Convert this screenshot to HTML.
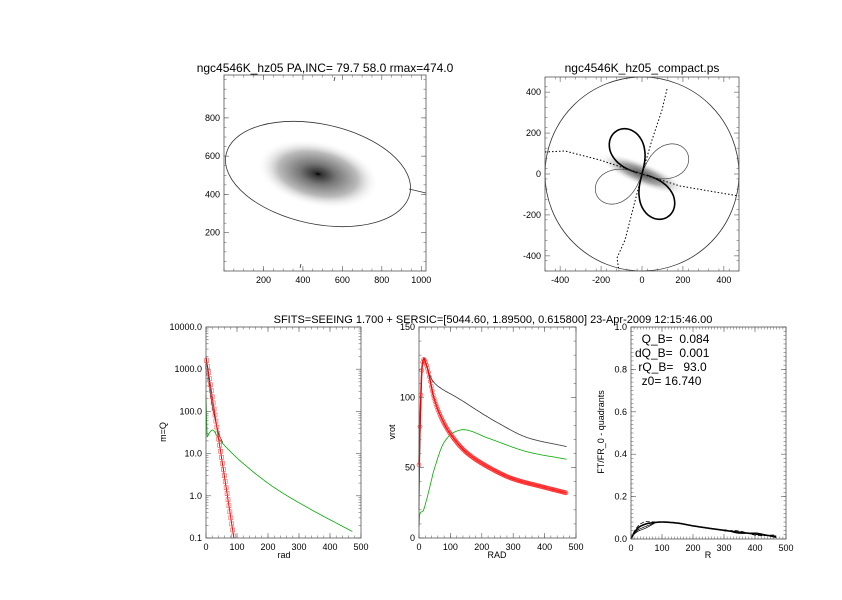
<!DOCTYPE html>
<html><head><meta charset="utf-8"><style>
body{margin:0;background:#fff}
svg text{font-family:"Liberation Sans",sans-serif;fill:#000}
</style></head><body>
<svg id="s" width="842" height="595" xmlns="http://www.w3.org/2000/svg">
<defs>
<radialGradient id="g1">
<stop offset="0" stop-color="#000"/><stop offset="0.06" stop-color="#333"/><stop offset="0.3" stop-color="#777"/><stop offset="0.65" stop-color="#bbb"/><stop offset="1" stop-color="#fff" stop-opacity="0"/>
</radialGradient>
<radialGradient id="g2">
<stop offset="0" stop-color="#555"/><stop offset="0.5" stop-color="#aaa"/><stop offset="1" stop-color="#fff" stop-opacity="0"/>
</radialGradient>
</defs>
<g font-size="12">
<text x="325" y="72" text-anchor="middle">ngc4546K_hz05 PA,INC= 79.7 58.0 rmax=474.0</text>
<text x="642" y="72" text-anchor="middle">ngc4546K_hz05_compact.ps</text>
<text x="493" y="323" text-anchor="middle" font-size="11">SFITS=SEEING 1.700 + SERSIC=[5044.60, 1.89500, 0.615800]  23-Apr-2009 12:15:46.00</text>
</g>
<ellipse cx="318" cy="174" rx="62" ry="33" fill="url(#g1)" transform="rotate(12 318 174)"/>
<ellipse cx="318" cy="174" rx="94" ry="50" fill="none" stroke="#333" stroke-width="0.8" transform="rotate(12 318 174)"/>
<line x1="409" y1="189" x2="426" y2="193" stroke="#333" stroke-width="0.8"/>
<path d="M334,81 l1,-4 M300,268 l1,-4" stroke="#333" stroke-width="0.8"/>
<rect x="224" y="75" width="202" height="196" fill="none" stroke="#555" stroke-width="0.8"/>
<ellipse cx="642" cy="174" rx="48" ry="12" fill="url(#g2)" transform="rotate(22 642 174)"/>
<circle cx="642" cy="174" r="97" fill="none" stroke="#333" stroke-width="0.8"/>
<rect x="545" y="77" width="194" height="194" fill="none" stroke="#555" stroke-width="0.8"/>
</svg>
<script>
var S=document.getElementById('s'),NS='http://www.w3.org/2000/svg';
function el(t,a,p){var e=document.createElementNS(NS,t);for(var k in a)e.setAttribute(k,a[k]);(p||S).appendChild(e);return e;}
function tx(x,y,s,o){var e=el('text',Object.assign({x:x,y:y,'font-size':9},o||{}));e.textContent=s;return e;}
function path(pts,o){el('path',Object.assign({d:'M'+pts.map(p=>p[0].toFixed(1)+','+p[1].toFixed(1)).join('L'),fill:'none'},o));}
function interp(P,x){var n=P.length;if(x<=P[0][0])return P[0][1];if(x>=P[n-1][0])return P[n-1][1];
 var i=0;while(x>P[i+1][0])i++;
 function sl(k){if(k<=0)return (P[1][1]-P[0][1])/(P[1][0]-P[0][0]);if(k>=n-1)return (P[n-1][1]-P[n-2][1])/(P[n-1][0]-P[n-2][0]);
  var d0=(P[k][1]-P[k-1][1])/(P[k][0]-P[k-1][0]),d1=(P[k+1][1]-P[k][1])/(P[k+1][0]-P[k][0]);if(d0*d1<=0)return 0;return 2/(1/d0+1/d1);}
 var h=P[i+1][0]-P[i][0],t=(x-P[i][0])/h,m0=sl(i)*h,m1=sl(i+1)*h,y0=P[i][1],y1=P[i+1][1];
 var t2=t*t,t3=t2*t;return (2*t3-3*t2+1)*y0+(t3-2*t2+t)*m0+(-2*t3+3*t2)*y1+(t3-t2)*m1;}
function frame(x0,y0,x1,y1){el('rect',{x:x0,y:y0,width:x1-x0,height:y1-y0,fill:'none',stroke:'#555','stroke-width':0.8});}
function ticksX(x0,x1,y0,y1,vals,lo,hi,minor){vals.forEach(v=>{var x=x0+(v-lo)/(hi-lo)*(x1-x0);el('line',{x1:x,y1:y1,x2:x,y2:y1-5,stroke:'#555','stroke-width':0.6});el('line',{x1:x,y1:y0,x2:x,y2:y0+5,stroke:'#555','stroke-width':0.6});tx(x,y1+12,String(v),{'text-anchor':'middle'});});
 for(var v=lo;v<=hi;v+=minor){var x=x0+(v-lo)/(hi-lo)*(x1-x0);el('line',{x1:x,y1:y1,x2:x,y2:y1-2.5,stroke:'#555','stroke-width':0.5});el('line',{x1:x,y1:y0,x2:x,y2:y0+2.5,stroke:'#555','stroke-width':0.5});}}
function ticksY(x0,x1,y0,y1,vals,lo,hi,minor,fmt){vals.forEach(v=>{var y=y1-(v-lo)/(hi-lo)*(y1-y0);el('line',{x1:x0,y1:y,x2:x0+5,y2:y,stroke:'#555','stroke-width':0.6});el('line',{x1:x1,y1:y,x2:x1-5,y2:y,stroke:'#555','stroke-width':0.6});tx(x0-4,y+3,fmt?fmt(v):String(v),{'text-anchor':'end'});});
 if(minor)for(var v=lo;v<=hi+1e-9;v+=minor){var y=y1-(v-lo)/(hi-lo)*(y1-y0);el('line',{x1:x0,y1:y,x2:x0+2.5,y2:y,stroke:'#555','stroke-width':0.5});el('line',{x1:x1,y1:y,x2:x1-2.5,y2:y,stroke:'#555','stroke-width':0.5});}}
ticksX(224,426,75,271,[200,400,600,800,1000],0,1024,50);
ticksY(224,426,75,271,[200,400,600,800],0,1024,50);
ticksX(545,739,77,271,[-400,-200,0,200,400],-474,474,50);
ticksY(545,739,77,271,[-400,-200,0,200,400],-474,474,50);
var cx=642,cy=174;
function petal(ang,L,o){var pts=[];for(var t=-Math.PI/4;t<=Math.PI/4+1e-6;t+=0.02){var r=L*Math.pow(Math.cos(2*t),0.6);var a=ang+t;pts.push([cx+r*Math.cos(a),cy-r*Math.sin(a)]);}path(pts,o);}
petal(120*Math.PI/180,50,{stroke:'#000','stroke-width':1.6});
petal(-60*Math.PI/180,50,{stroke:'#000','stroke-width':1.6});
petal(25*Math.PI/180,50,{stroke:'#444','stroke-width':0.7});
petal(205*Math.PI/180,50,{stroke:'#444','stroke-width':0.7});
path([[667,89],[662,110],[652,140],[642,174],[634,205],[625,240],[617,258],[619,271]],{stroke:'#000','stroke-width':1,'stroke-dasharray':'1.5,2'});
path([[545,152],[565,151],[600,160],[642,174],[680,186],[715,192],[739,196]],{stroke:'#000','stroke-width':1,'stroke-dasharray':'1.5,2'});
// bottom-left log
var B1={x0:206,x1:361,y0:327,y1:538};
function lx(r){return B1.x0+r/500*(B1.x1-B1.x0);}function ly(v){return B1.y1-(Math.log10(v)+1)/5*(B1.y1-B1.y0);}
var G=[[0,2.4],[2,1.8],[4,1.4],[10,1.48],[21,1.56],[40,1.36],[64,1.16],[107,0.85],[215,0.22],[323,-0.26],[473,-0.85]];
var pts=[];for(var r=0;r<=472;r+=2)pts.push([lx(r),ly(Math.pow(10,interp(G,r)))]);path(pts,{stroke:'#0a0','stroke-width':0.8});
var K=[[0,3.3],[10,2.7],[20,2.15],[30,1.8],[42,1.45],[54,1.26]];pts=[];for(var r=0;r<=54;r+=2)pts.push([lx(r),ly(Math.pow(10,interp(K,r)))]);path(pts,{stroke:'#333','stroke-width':0.8});
pts=[];for(var r=0;r<=90;r+=1)pts.push([lx(r),ly(Math.pow(10,3.3-4.3*r/90))]);path(pts,{stroke:'#d00','stroke-width':1});
for(var r=2;r<=90;r+=3){var x=lx(r),y=ly(Math.pow(10,3.3-4.3*r/90));el('rect',{x:x-2,y:y-2,width:4,height:4,fill:'none',stroke:'#f55','stroke-width':0.6});}
frame(B1.x0,B1.y0,B1.x1,B1.y1);
ticksX(B1.x0,B1.x1,B1.y0,B1.y1,[0,100,200,300,400,500],0,500,20);
[0.1,1,10,100,1000,10000].forEach(v=>{var y=ly(v);el('line',{x1:B1.x0,y1:y,x2:B1.x0+5,y2:y,stroke:'#555','stroke-width':0.6});el('line',{x1:B1.x1,y1:y,x2:B1.x1-5,y2:y,stroke:'#555','stroke-width':0.6});tx(B1.x0-4,y+3,v.toFixed(1),{'text-anchor':'end'});
 if(v<10000)for(var m=2;m<10;m++){var yy=ly(v*m);el('line',{x1:B1.x0,y1:yy,x2:B1.x0+2.5,y2:yy,stroke:'#555','stroke-width':0.5});el('line',{x1:B1.x1,y1:yy,x2:B1.x1-2.5,y2:yy,stroke:'#555','stroke-width':0.5});}});
tx(284,558,'rad',{'text-anchor':'middle'});tx(0,0,'m=Q',{transform:'translate(166,432) rotate(-90)','text-anchor':'middle'});
// bottom-middle
var B2={x0:419,x1:576,y0:327,y1:538};
function mx(r){return B2.x0+r/500*(B2.x1-B2.x0);}function my(v){return B2.y1-v/150*(B2.y1-B2.y0);}
var Kb=[[0,20],[5,90],[10,122],[15,128],[25,122],[40,113],[60,108],[120,100],[250,82],[350,71],[470,65]];
var Gb=[[0,8],[3,18],[12,19],[25,28],[50,50],[80,68],[110,75],[140,77],[220,71],[350,61],[470,56]];
var Rb=[[0,52],[5,95],[10,122],[15,127],[25,122],[47,100],[70,86],[97,75],[150,61],[224,50],[300,42],[400,36],[470,32]];
pts=[];for(var r=0;r<=470;r+=2)pts.push([mx(r),my(interp(Kb,r))]);path(pts,{stroke:'#333','stroke-width':0.8});
pts=[];for(var r=0;r<=470;r+=2)pts.push([mx(r),my(interp(Gb,r))]);path(pts,{stroke:'#0a0','stroke-width':0.8});
pts=[];for(var r=0;r<=470;r+=2)pts.push([mx(r),my(interp(Rb,r))]);path(pts,{stroke:'#e00','stroke-width':1.5});
for(var r=0;r<=470;r+=3){el('circle',{cx:mx(r),cy:my(interp(Rb,r)),r:2,fill:'none',stroke:'#f33','stroke-width':0.6});}
frame(B2.x0,B2.y0,B2.x1,B2.y1);
ticksX(B2.x0,B2.x1,B2.y0,B2.y1,[0,100,200,300,400,500],0,500,20);
ticksY(B2.x0,B2.x1,B2.y0,B2.y1,[0,50,100,150],0,150,10);
tx(497,558,'RAD',{'text-anchor':'middle'});tx(0,0,'vrot',{transform:'translate(395,432) rotate(-90)','text-anchor':'middle'});
// bottom-right
var B3={x0:631,x1:786,y0:327,y1:539};
function rx(r){return B3.x0+r/500*(B3.x1-B3.x0);}function ry(v){return B3.y1-v*(B3.y1-B3.y0);}
var F=[[0,0],[10,0.03],[30,0.06],[60,0.075],[100,0.08],[150,0.075],[200,0.062],[280,0.045],[350,0.032],[470,0.012]];
[[0,0],[-0.012,1],[0.012,-1],[-0.02,0.5]].forEach((d,i)=>{pts=[];for(var r=0;r<=470;r+=3){var v=interp(F,r);if(r<80)v+=d[0]*Math.sin(r/80*Math.PI);if(r>300)v+=0.006*d[1]*Math.sin(r/20);pts.push([rx(r),ry(v)]);}path(pts,{stroke:'#000','stroke-width':i==0?1.6:0.7,'stroke-dasharray':i==2?'4,2':'none'});});
frame(B3.x0,B3.y0,B3.x1,B3.y1);
ticksX(B3.x0,B3.x1,B3.y0,B3.y1,[0,100,200,300,400,500],0,500,10);
ticksY(B3.x0,B3.x1,B3.y0,B3.y1,[0,0.2,0.4,0.6,0.8,1.0],0,1,0.02,v=>v.toFixed(1));
tx(708,558,'R',{'text-anchor':'middle'});tx(0,0,'FT/FR_0 - quadrants',{transform:'translate(604,432) rotate(-90)','text-anchor':'middle'});
[['  Q_B=  0.084',343],['dQ_B=  0.001',357],[' rQ_B=   93.0',371],['  z0= 16.740',385]].forEach(a=>{tx(635,a[1],a[0],{'font-size':12,style:'white-space:pre'});});
</script>
</body></html>
